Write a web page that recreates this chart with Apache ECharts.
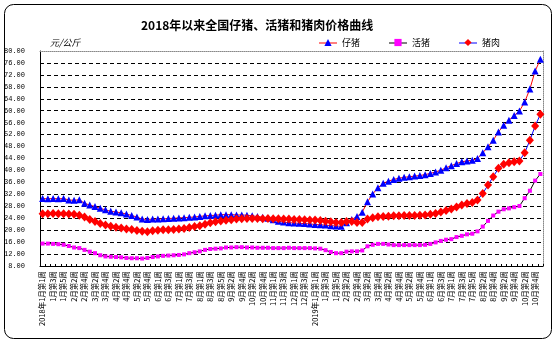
<!DOCTYPE html>
<html><head><meta charset="utf-8">
<script src="https://cdn.jsdelivr.net/npm/echarts@6/dist/echarts.min.js"></script>
<style>html,body{margin:0;padding:0;background:#fff}#c{width:554px;height:341px}</style>
</head><body><div id="c"></div>
<script>
const categories = [
 '2018年1月第1周','1月第2周','1月第3周','1月第4周','1月第5周','2月第1周','2月第2周','2月第3周','2月第4周',
 '3月第1周','3月第2周','3月第3周','3月第4周','4月第1周','4月第2周','4月第3周','4月第4周',
 '5月第1周','5月第2周','5月第3周','5月第4周','5月第5周','6月第1周','6月第2周','6月第3周','6月第4周',
 '7月第1周','7月第2周','7月第3周','7月第4周','8月第1周','8月第2周','8月第3周','8月第4周','8月第5周',
 '9月第1周','9月第2周','9月第3周','9月第4周','10月第1周','10月第2周','10月第3周','10月第4周','10月第5周',
 '11月第1周','11月第2周','11月第3周','11月第4周','12月第1周','12月第2周','12月第3周','12月第4周',
 '2019年1月第1周','1月第2周','1月第3周','1月第4周','1月第5周','2月第1周','2月第2周','2月第3周','2月第4周',
 '3月第1周','3月第2周','3月第3周','3月第4周','4月第1周','4月第2周','4月第3周','4月第4周',
 '5月第1周','5月第2周','5月第3周','5月第4周','5月第5周','6月第1周','6月第2周','6月第3周','6月第4周',
 '7月第1周','7月第2周','7月第3周','7月第4周','7月第5周','8月第1周','8月第2周','8月第3周','8月第4周',
 '9月第1周','9月第2周','9月第3周','9月第4周','10月第1周','10月第2周','10月第3周','10月第4周','10月第5周'
];
const seriesNames = ['仔猪','活猪','猪肉'];
const piglet = [
 30.6,30.5,30.6,30.5,30.6,30.1,30.0,30.2,29.0,28.4,27.9,27.3,26.8,26.3,26.1,25.8,25.4,24.9,24.4,23.7,
 23.6,23.7,23.7,23.8,23.9,24.0,24.1,24.2,24.3,24.4,24.6,24.8,24.9,25.0,25.2,25.2,25.2,25.1,25.1,25.0,
 24.8,24.6,24.3,24.0,23.5,23.0,22.7,22.5,22.4,22.3,22.2,22.1,21.9,21.8,21.7,21.5,21.4,21.3,22.5,23.6,
 24.6,26.0,29.5,32.1,34.2,35.7,36.4,37.0,37.4,37.7,37.9,38.1,38.3,38.6,39.0,39.5,40.1,40.9,41.6,42.3,
 42.9,43.2,43.4,44.0,45.9,47.9,50.1,52.9,55.1,56.8,58.4,59.9,62.9,67.3,73.3,77.2
];
const hog = [
 15.5,15.5,15.4,15.3,15.1,14.7,14.2,14.0,13.4,12.8,12.3,11.6,11.2,11.1,11.0,10.9,10.7,10.6,10.6,10.5,
 10.7,11.0,11.2,11.4,11.5,11.6,11.7,11.9,12.3,12.6,12.9,13.4,13.7,13.8,13.9,14.2,14.2,14.3,14.3,14.2,
 14.2,14.1,14.1,14.1,14.0,14.0,14.0,14.1,14.0,14.0,14.0,14.0,13.9,13.8,13.3,12.7,12.3,12.3,12.8,12.9,
 12.9,13.2,14.6,15.1,15.4,15.4,15.2,15.0,15.0,15.0,15.0,15.0,15.0,15.1,15.4,15.9,16.4,16.8,17.0,17.7,
 18.1,18.6,18.8,19.6,21.2,23.1,24.9,26.2,27.0,27.3,27.7,28.1,30.7,33.2,36.6,38.8
];
const pork = [
 25.5,25.5,25.6,25.5,25.5,25.4,25.3,25.0,24.4,23.6,22.9,22.2,21.7,21.3,21.0,20.7,20.4,20.2,19.9,19.6,
 19.5,19.8,20.0,20.1,20.1,20.2,20.4,20.6,20.9,21.2,21.5,22.0,22.5,22.8,23.1,23.3,23.5,23.7,23.8,23.9,
 23.9,23.9,23.8,23.9,23.8,23.8,23.7,23.7,23.6,23.6,23.5,23.4,23.4,23.2,23.0,22.8,22.6,22.6,22.9,22.9,
 22.6,22.6,23.7,24.2,24.5,24.6,24.7,24.8,24.8,24.9,24.9,24.9,25.0,25.1,25.3,25.6,26.1,26.6,27.1,27.8,
 28.4,28.9,29.3,30.1,32.3,35.1,37.9,40.7,42.1,42.6,42.9,43.2,45.9,50.1,54.9,58.8
];
const yMin = 8, yMax = 80, yStep = 4;

const lineColors = ['#ff0000','#000000','#0000ff'];
const markColors = ['#0000ff','#ff00ff','#ff0000'];
const legendLeft = [319, 389, 459];
const legendTop = 38, legendIconW = 18, legendIconH = 9;

const chart = echarts.init(document.getElementById('c'), null, {renderer:'canvas'});
const cjk = '"Noto Sans CJK SC", sans-serif';
chart.setOption({
  backgroundColor:'#fff',
  animation:false,
  title:{text:'2018年以来全国仔猪、活猪和猪肉价格曲线', left:136, top:14,
    textStyle:{fontFamily:cjk, fontSize:12, fontWeight:'bold', color:'#000'}},
  legend:seriesNames.map((n,i)=>({data:[n], left:legendLeft[i], top:legendTop, padding:0, z:10,
    itemWidth:legendIconW, itemHeight:legendIconH, itemGap:0,
    itemStyle:{color:markColors[i]}, lineStyle:{color:lineColors[i], width:0},
    textStyle:{fontFamily:cjk, fontSize:9, color:'#000'}})),
  graphic:[
    {type:'rect', left:2, top:2, shape:{width:547, height:334, r:9}, style:{fill:'none', stroke:'#000', lineWidth:1}, silent:true},
    {type:'text', left:50, top:38, style:{text:'元/公斤', font:'italic 9px "Noto Sans CJK SC"', fill:'#000'}}
  ].concat(seriesNames.map((n,i)=>({type:'line', z:1, silent:true,
    shape:{x1:legendLeft[i], y1:legendTop+legendIconH/2+0.5, x2:legendLeft[i]+legendIconW, y2:legendTop+legendIconH/2+0.5},
    style:{stroke:lineColors[i], lineWidth:1}}))),
  grid:{left:40, right:11, top:51, bottom:75},
  xAxis:[{type:'category', data:categories, boundaryGap:true,
    axisLine:{lineStyle:{color:'#000', width:1}},
    axisTick:{show:true, inside:true, length:2, interval:0, lineStyle:{color:'#000'}},
    axisLabel:{interval:1, rotate:90, fontSize:7.5, fontFamily:cjk, color:'#000', margin:5}},
   {type:'category', data:categories, position:'top', boundaryGap:true,
    axisLine:{lineStyle:{color:'#888', type:'dotted'}}, axisTick:{show:false}, axisLabel:{show:false}}],
  yAxis:[{type:'value', min:yMin, max:yMax, interval:yStep,
    axisLine:{show:true, lineStyle:{color:'#000'}}, axisTick:{show:false},
    axisLabel:{formatter:v=>v.toFixed(2), fontSize:7, fontFamily:'"Liberation Mono", monospace', color:'#000', margin:15},
    splitLine:{show:true, showMinLine:false, showMaxLine:false, lineStyle:{color:'#000', type:[4,3], width:1}}},
   {type:'value', min:yMin, max:yMax, interval:yStep, position:'right',
    axisLine:{show:true, lineStyle:{color:'#888', type:'dotted'}}, axisTick:{show:false}, axisLabel:{show:false}, splitLine:{show:false}}],
  series:[
    {name:'仔猪', type:'line', data:piglet, symbol:'triangle', symbolSize:7, showAllSymbol:true,
     lineStyle:{color:lineColors[0], width:1}, itemStyle:{color:markColors[0]}},
    {name:'活猪', type:'line', data:hog, symbol:'rect', symbolSize:4, showAllSymbol:true,
     lineStyle:{color:lineColors[1], width:1}, itemStyle:{color:markColors[1]}},
    {name:'猪肉', type:'line', data:pork, symbol:'diamond', symbolSize:[8,9], showAllSymbol:true,
     lineStyle:{color:lineColors[2], width:1}, itemStyle:{color:markColors[2]}}
  ]
});
</script></body></html>
